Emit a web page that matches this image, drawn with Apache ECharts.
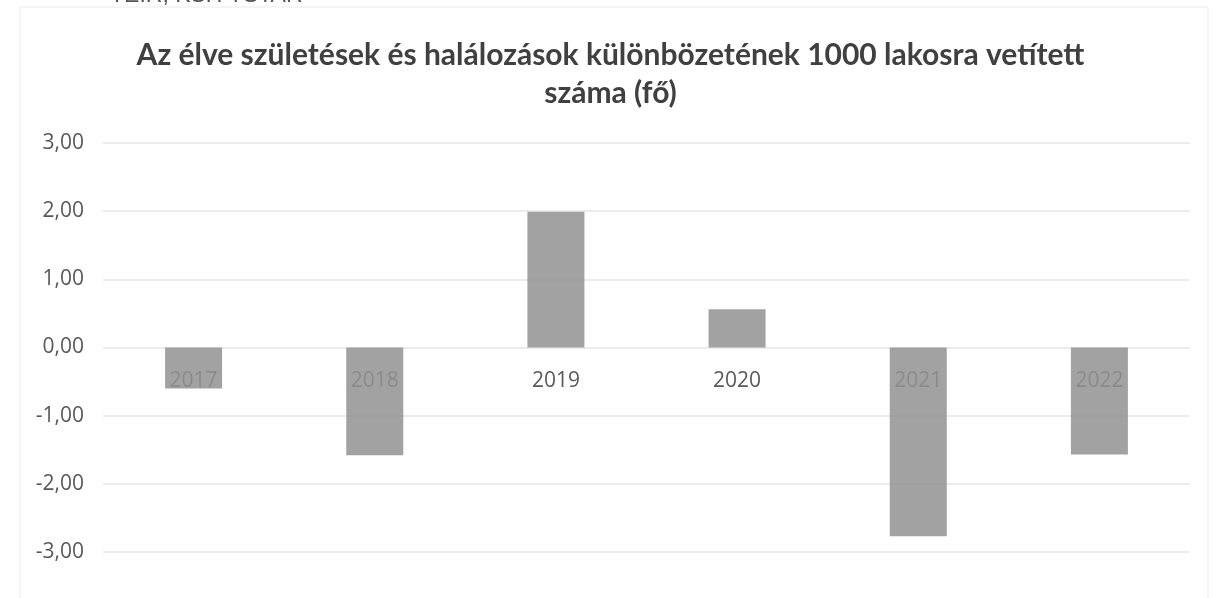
<!DOCTYPE html>
<html>
<head>
<meta charset="utf-8">
<script src="https://cdn.jsdelivr.net/npm/echarts@6/dist/echarts.min.js"></script>
<style>
    html, body {
        margin: 0;
        padding: 0;
        background: #fff;
    }

    #chart {
        width: 1221px;
        height: 598px;
    }
</style>
</head>
<body>
<div id="chart"></div>
<script>
// évek és értékek (fő / 1000 lakos)
const years = ['2017', '2018', '2019', '2020', '2021', '2022']
const values = [-0.6, -1.58, 1.99, 0.56, -2.77, -1.57]
const yTicks = [-3, -2, -1, 0, 1, 2, 3]

const myChart = echarts.init(document.getElementById('chart'))

// rács méretei, hogy a kategóriafeliratok a 0-s vonal alá kerüljenek
const gridTop = 143
const gridBottom = 46
const plotH = 598 - gridTop - gridBottom
const zeroFromBottom = plotH * (0 - yTicks[0]) / (yTicks[yTicks.length - 1] - yTicks[0])

const options = {
    backgroundColor: '#fff',
    title: {
        text: 'Az élve születések és halálozások különbözetének 1000 lakosra vetített\nszáma (fő)',
        left: 'center',
        top: 31,
        textStyle: {
            fontFamily: 'Lato',
            fontWeight: 'bold',
            fontSize: 30,
            lineHeight: 38,
            color: '#404040'
        }
    },
    graphic: [
        {
            type: 'rect',
            shape: { x: 20, y: 7, width: 1188, height: 620 },
            style: { fill: 'none', stroke: '#ececec', lineWidth: 1 },
            silent: true
        },
        {
            type: 'text',
            left: 110,
            top: -16,
            style: {
                text: 'TEIR, KSH TSTAR',
                font: '23px "Liberation Sans"',
                fill: '#555'
            }
        }
    ],
    grid: {
        left: 103,
        right: 31,
        top: gridTop,
        bottom: gridBottom
    },
    xAxis: {
        type: 'category',
        data: years,
        axisLine: {
            show: false
        },
        axisTick: {
            show: false
        },
        axisLabel: {
            // a feliratok a 0-s vonal alatt, az oszlopok mögött halványan látszanak
            margin: -zeroFromBottom + 23,
            fontFamily: 'Open Sans',
            fontSize: 21,
            color: '#595959'
        }
    },
    yAxis: {
        type: 'value',
        min: yTicks[0],
        max: yTicks[yTicks.length - 1],
        interval: 1,
        axisLine: {
            show: false
        },
        axisTick: {
            show: false
        },
        axisLabel: {
            margin: 19,
            fontFamily: 'Open Sans',
            fontSize: 21,
            color: '#595959',
            formatter: v => v.toFixed(2).replace('.', ',')
        },
        splitLine: {
            lineStyle: {
                color: '#e6e6e6',
                width: 1.5
            }
        }
    },
    series: [
        {
            type: 'bar',
            data: values,
            barWidth: 57,
            itemStyle: {
                color: 'rgba(147,147,147,0.86)'
            }
        }
    ]
}
myChart.setOption(options)
</script>
</body>
</html>
